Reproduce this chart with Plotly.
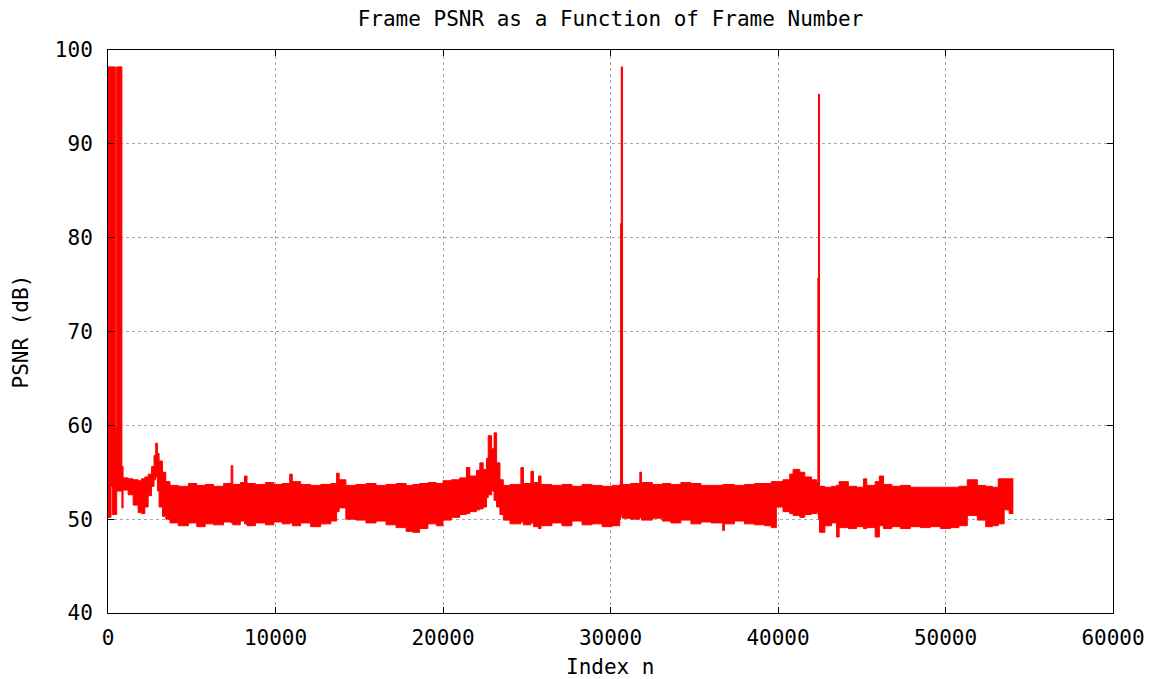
import plotly.graph_objects as go

# Envelope of the per-frame PSNR trace
frame_idx = [0, 180, 260, 440, 520, 830, 900, 1200, 1500, 1800, 2000, 2200, 2400, 2600, 2750, 2850,
             2950, 3050, 3250, 3450, 3700, 4200, 4800, 5300, 5800, 6300, 6900, 7350, 7450, 7900,
             8150, 8300, 8800, 9400, 9900, 10400, 10850, 11000, 11500, 12100, 12700, 13300, 13650,
             13800, 14200, 14800, 15400, 16000, 16600, 17200, 17800, 18200, 18600, 19100, 19600,
             20000, 20500, 21000, 21400, 21600, 22000, 22200, 22400, 22600, 22700, 22900, 23050,
             23200, 23400, 23600, 24000, 24650, 24800, 25250, 25400, 25700, 25850, 26500, 27100,
             27700, 28300, 28900, 29500, 30100, 30550, 30600, 30640, 30720, 31200, 31750, 31850,
             32500, 33100, 33600, 34200, 34800, 35400, 36000, 36700, 36800, 37400, 38000, 38600,
             39200, 39600, 39900, 40300, 40700, 40900, 41300, 41600, 42000, 42300, 42380, 42420,
             42480, 42800, 43200, 43500, 43650, 44200, 44700, 45100, 45300, 45800, 46050, 46300,
             46800, 47300, 47900, 48500, 49100, 49700, 50300, 50800, 51300, 51900, 52400, 52800,
             53150, 53500, 53800, 54050]

psnr_upper = [98.2, 98.2, 98.2, 59.8, 98.2, 55.6, 54.4, 54.3, 54.2, 54.1, 54.3, 54.5, 54.8, 55.6, 56.8, 58.1,
              57.0, 56.2, 55.0, 54.0, 53.6, 53.5, 53.8, 53.6, 53.7, 53.5, 53.8, 55.7, 53.7, 53.9,
              54.6, 53.8, 53.7, 53.9, 53.7, 53.8, 54.8, 54.0, 53.7, 53.6, 53.7, 53.8, 54.9,
              54.2, 53.6, 53.7, 53.8, 53.6, 53.7, 53.8, 53.6, 53.7, 53.8, 53.9, 53.8,
              54.1, 54.2, 54.4, 55.5, 54.6, 55.2, 56.0, 55.3, 56.5, 58.9, 57.5, 59.2,
              56.0, 54.2, 53.6, 53.7, 55.5, 53.8, 55.1, 53.9, 54.6, 53.7, 53.6, 53.7,
              53.5, 53.7, 53.6, 53.5, 53.6, 53.7, 81.5, 98.2, 53.7, 53.8, 55.0, 53.9,
              53.7, 53.8, 53.7, 53.9, 53.8, 53.6, 53.6, 53.7, 53.7, 53.6, 53.7, 53.8,
              53.8, 54.0, 54.0, 54.2, 54.8, 55.3, 55.0, 54.5, 54.2, 53.9, 75.7, 95.3,
              53.5, 53.4, 53.5, 53.6, 54.0, 53.5, 53.4, 54.3, 53.6, 54.0, 54.6, 53.7,
              53.5, 53.6, 53.4, 53.4, 53.4, 53.4, 53.4, 53.5, 54.2, 53.6, 53.5, 53.4,
              54.3, 54.3, 54.3, 54.3]

psnr_lower = [50.2, 53.5, 50.5, 50.5, 53.0, 51.2, 53.1, 52.6, 51.5, 50.7, 50.6, 51.3, 52.5, 53.5, 54.2, 54.5,
              53.0, 51.3, 50.3, 50.0, 49.6, 49.3, 49.6, 49.2, 49.5, 49.4, 49.7, 49.6, 49.4, 49.8,
              49.5, 49.3, 49.6, 49.4, 49.7, 49.5, 49.6, 49.3, 49.6, 49.2, 49.5, 49.8, 50.8,
              51.2, 50.0, 49.9, 49.6, 49.8, 49.4, 49.1, 48.7, 48.6, 49.0, 49.5, 49.3,
              49.9, 50.2, 50.5, 50.6, 50.8, 51.0, 51.1, 51.3, 52.3, 52.6, 53.0, 52.0,
              51.3, 50.5, 49.9, 49.5, 49.7, 49.4, 49.6, 49.2, 49.0, 49.3, 49.6, 49.3,
              49.8, 49.4, 49.5, 49.2, 49.3, 50.0, 50.2, 50.5, 50.1, 50.0, 50.2, 49.9,
              50.1, 49.8, 49.6, 49.9, 49.5, 49.7, 49.6, 48.8, 49.5, 49.8, 49.5, 49.4,
              49.3, 49.1, 51.3, 50.8, 50.6, 50.4, 50.2, 50.5, 50.6, 50.8, 50.5, 50.0,
              48.6, 49.3, 49.6, 48.1, 49.1, 49.0, 49.2, 49.0, 49.1, 48.1, 49.3, 49.0,
              49.2, 49.0, 49.2, 49.1, 49.2, 49.0, 49.1, 49.3, 50.4, 49.9, 49.2, 49.3,
              49.5, 51.0, 50.6, 50.6]

x_ticks = [0, 10000, 20000, 30000, 40000, 50000, 60000]
y_ticks = [40, 50, 60, 70, 80, 90, 100]

RED = "#ff0000"
FONT = "DejaVu Sans Mono"
FSIZE = 21

fig = go.Figure()
fig.add_trace(go.Scatter(x=frame_idx, y=psnr_lower, mode="lines",
                         line=dict(color=RED, width=1, shape="hv"),
                         showlegend=False, hoverinfo="skip"))
fig.add_trace(go.Scatter(x=frame_idx, y=psnr_upper, mode="lines",
                         line=dict(color=RED, width=1, shape="hv"),
                         fill="tonexty", fillcolor=RED,
                         showlegend=False, hoverinfo="skip"))

axis_common = dict(
    showline=True, linecolor="black", linewidth=1, mirror="all",
    ticks="inside", ticklen=6, tickcolor="black", tickwidth=1,
    showgrid=True, gridcolor="#a8a8a8", griddash="dot", gridwidth=1,
    zeroline=False,
    tickfont=dict(family=FONT, size=FSIZE, color="black"),
)

fig.update_layout(
    width=1163, height=679,
    margin=dict(l=108, r=50, t=50, b=66),
    paper_bgcolor="white", plot_bgcolor="white",
    title=dict(text="Frame PSNR as a Function of Frame Number",
               xref="paper", x=0.5, xanchor="center",
               yref="container", y=0.973, yanchor="middle",
               font=dict(family=FONT, size=FSIZE, color="black")),
    xaxis=dict(range=[0, 60000], tickvals=x_ticks, ticktext=[str(v) for v in x_ticks],
               ticklabelstandoff=6, **axis_common),
    yaxis=dict(range=[40, 100], tickvals=y_ticks, ticktext=[str(v) for v in y_ticks],
               ticklabelstandoff=10, **axis_common),
    annotations=[
        dict(text="Index n", xref="paper", yref="paper", x=0.5, y=0,
             xanchor="center", yanchor="middle", yshift=-54, showarrow=False,
             font=dict(family=FONT, size=FSIZE, color="black")),
        dict(text="PSNR (dB)", xref="paper", yref="paper", x=0, y=0.5,
             xanchor="center", yanchor="middle", xshift=-88, textangle=-90, showarrow=False,
             font=dict(family=FONT, size=FSIZE, color="black")),
    ],
)

fig.write_html("out.html")
